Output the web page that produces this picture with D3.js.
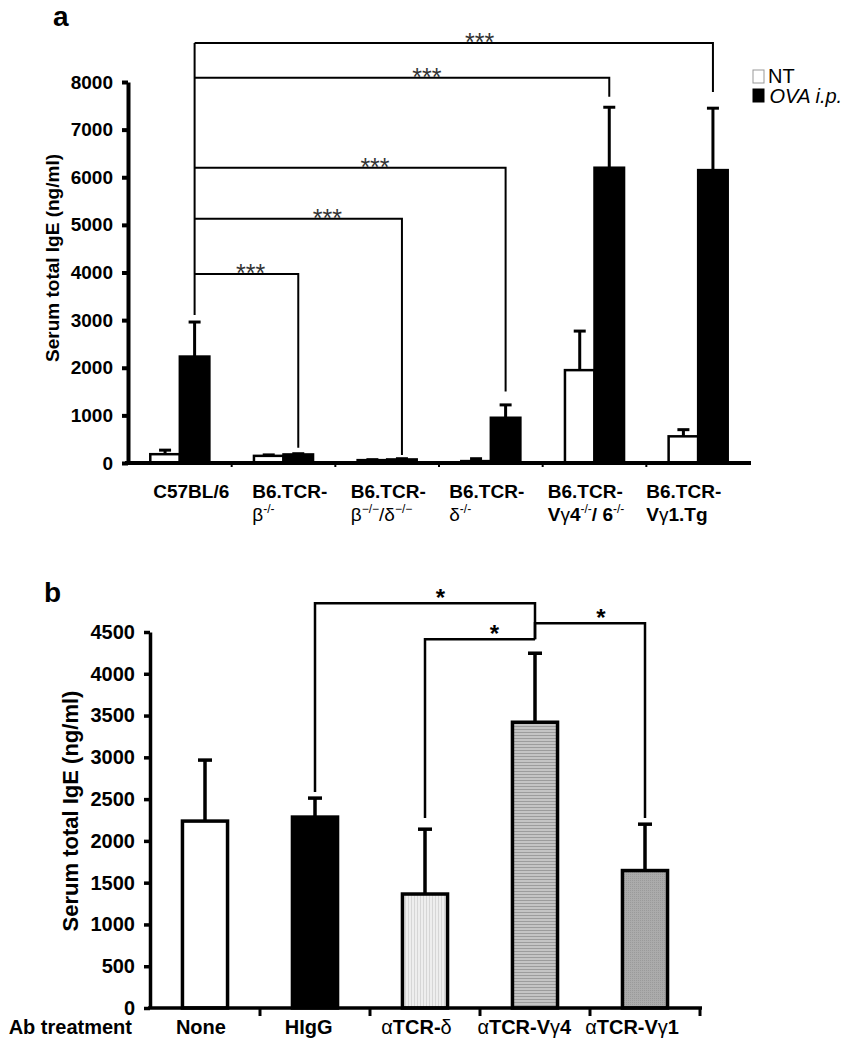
<!DOCTYPE html>
<html><head><meta charset="utf-8">
<script src="https://cdn.jsdelivr.net/npm/d3@7"></script>
<style>body{margin:0;background:#fff} text{font-family:"Liberation Sans",Arial,Helvetica,sans-serif}</style>
</head><body><svg id="c" width="846" height="1050"></svg>
<script>
// ---------- Panel a data ----------
const groupsA = ["C57BL/6","B6.TCR-β-/-","B6.TCR-β-/-/δ-/-","B6.TCR-δ-/-","B6.TCR-Vγ4-/-/6-/-","B6.TCR-Vγ1.Tg"];
const seriesA = ["NT","OVA i.p."];
const ntMean  = [185, 150, 60, 40, 1950, 560];
const ntSD    = [ 85,  20, 10, 50,  820, 140];
const ovaMean = [2235, 180, 75, 950, 6200, 6150];
const ovaSD   = [ 725,  15, 15, 270, 1270, 1300];
const ticksA  = [0,1000,2000,3000,4000,5000,6000,7000,8000];
// label pieces: [text, kind] kind: "" bold, "g" greek(regular), "s" superscript
const labelLine1A = ["C57BL/6","B6.TCR-","B6.TCR-","B6.TCR-","B6.TCR-","B6.TCR-"];
const labelLine2A = [
  [],
  [["β","g"],["-/-","s"]],
  [["β","g"],["−/−","s"],["/","g"],["δ","g"],["−/−","s"]],
  [["δ","g"],["-/-","s"]],
  [["V",""],["γ","g"],["4",""],["-/-","s"],["/ 6",""],["-/-","s"]],
  [["V",""],["γ","g"],["1.Tg",""]]
];
// significance brackets: from group -> to group, line level, end level at target, star position fraction
const bracketsA = [
  {from:0, to:5, level:8820, end:7790, pos:0.55, label:"***"},
  {from:0, to:4, level:8090, end:7690, pos:0.56, label:"***"},
  {from:0, to:3, level:6200, end:1500, pos:0.58, label:"***"},
  {from:0, to:2, level:5130, end:170,  pos:0.64, label:"***"},
  {from:0, to:1, level:3970, end:320,  pos:0.54, label:"***"}
];
const bracketAStart = 3110;

// ---------- Panel b data ----------
const catsB  = ["None","HIgG","αTCR-δ","αTCR-Vγ4","αTCR-Vγ1"];
const meansB = [2237, 2285, 1364, 3420, 1645];
const sdB    = [ 730,  227,  776,  826,  555];
const ticksB = [0,500,1000,1500,2000,2500,3000,3500,4000,4500];
const labelPartsB = [
  [["None",""]],
  [["HIgG",""]],
  [["α","g"],["TCR-",""],["δ","g"]],
  [["α","g"],["TCR-V",""],["γ","g"],["4",""]],
  [["α","g"],["TCR-V",""],["γ","g"],["1",""]]
];
const bracketsB = [
  {from:1, to:3, level:4845, fromEnd:2584, toEnd:4414, pos:0.57, label:"*"},
  {from:2, to:3, level:4414, fromEnd:2273, toEnd:4414, pos:0.63, label:"*"},
  {from:3, to:4, level:4605, fromEnd:4414, toEnd:2273, pos:0.60, label:"*"}
];

const svg = d3.select("#c");

// defs: patterns
const defs = svg.append("defs");
const pDelta = defs.append("pattern").attr("id","pDelta").attr("patternUnits","userSpaceOnUse").attr("width",3).attr("height",3);
pDelta.append("rect").attr("width",3).attr("height",3).attr("fill","#eeeeee");
pDelta.append("rect").attr("width",1).attr("height",3).attr("fill","#d6d6d6");
const pV4 = defs.append("pattern").attr("id","pV4").attr("patternUnits","userSpaceOnUse").attr("width",4).attr("height",3);
pV4.append("rect").attr("width",4).attr("height",3).attr("fill","#c4c4c4");
pV4.append("rect").attr("width",4).attr("height",1).attr("fill","#9c9c9c");
const pV1 = defs.append("pattern").attr("id","pV1").attr("patternUnits","userSpaceOnUse").attr("width",2).attr("height",2);
pV1.append("rect").attr("width",2).attr("height",2).attr("fill","#ababab");
pV1.append("rect").attr("width",1).attr("height",1).attr("fill","#9a9a9a");
const fillsB = ["#ffffff","#000000","url(#pDelta)","url(#pV4)","url(#pV1)"];

function addParts(textSel, parts, size, supSize){
  let prevSup = false;
  parts.forEach(([t,k])=>{
    const ts = textSel.append("tspan").text(t);
    if(k==="g"){ ts.attr("font-weight","normal"); }
    if(k==="s"){
      ts.attr("font-size",supSize).attr("font-weight","normal").attr("dy",prevSup?0:-8);
      prevSup = true;
    } else {
      if(prevSup) ts.attr("dy",8);
      prevSup = false;
    }
  });
}

// ================= Panel a =================
const yA = d3.scaleLinear().domain([0,8000]).range([463,82]);
const x0A = d3.scaleBand().domain(groupsA).range([128,750]).paddingInner(0.43).paddingOuter(0.215);
const x1A = d3.scaleBand().domain(seriesA).range([0,x0A.bandwidth()]);
const labA = d3.scaleBand().domain(groupsA).range([142,733]);
const gA = svg.append("g");

svg.append("text").attr("x",53).attr("y",26).attr("font-size",28).attr("font-weight","bold").text("a");

// y axis
const axA = gA.append("g").attr("transform","translate(128,0)")
  .call(d3.axisLeft(yA).tickValues(ticksA).tickSize(6).tickSizeOuter(0).tickPadding(9).tickFormat(d3.format("d")));
axA.select(".domain").attr("stroke-width",4);
axA.selectAll(".tick line").attr("stroke-width",4);
axA.selectAll(".tick text").attr("font-size",19).attr("font-weight","bold").attr("fill","#000");

// bars
const dataA = groupsA.map((g,i)=>({g, vals:[{s:"NT",m:ntMean[i],e:ntSD[i]},{s:"OVA i.p.",m:ovaMean[i],e:ovaSD[i]}]}));
const grpA = gA.selectAll(".grp").data(dataA).join("g").attr("transform",d=>`translate(${x0A(d.g)},0)`);
grpA.selectAll("line.err").data(d=>d.vals).join("line").attr("class","err")
  .attr("x1",d=>x1A(d.s)+x1A.bandwidth()/2).attr("x2",d=>x1A(d.s)+x1A.bandwidth()/2)
  .attr("y1",d=>yA(d.m)).attr("y2",d=>yA(d.m+d.e)).attr("stroke","#000").attr("stroke-width",3);
grpA.selectAll("line.cap").data(d=>d.vals).join("line").attr("class","cap")
  .attr("x1",d=>x1A(d.s)+x1A.bandwidth()/2-6).attr("x2",d=>x1A(d.s)+x1A.bandwidth()/2+6)
  .attr("y1",d=>yA(d.m+d.e)).attr("y2",d=>yA(d.m+d.e)).attr("stroke","#000").attr("stroke-width",3);
grpA.selectAll("rect").data(d=>d.vals).join("rect")
  .attr("x",d=>x1A(d.s)).attr("width",x1A.bandwidth())
  .attr("y",d=>yA(d.m)).attr("height",d=>yA(0)-yA(d.m))
  .attr("fill",d=>d.s==="NT"?"#fff":"#000").attr("stroke","#000").attr("stroke-width",2.5);

// x axis line + boundary ticks
const xAxA = gA.append("g").attr("transform",`translate(0,${yA(0)})`)
  .call(d3.axisBottom(x0A).tickSize(0).tickSizeOuter(0).tickFormat(""));
xAxA.select(".domain").attr("stroke-width",4).attr("d",`M125,0H751`);
gA.selectAll(".bt").data(groupsA.slice(1)).join("line")
  .attr("x1",d=>x0A(d)-x0A.step()*x0A.paddingInner()/2).attr("x2",d=>x0A(d)-x0A.step()*x0A.paddingInner()/2)
  .attr("y1",yA(0)).attr("y2",yA(0)+4).attr("stroke","#000").attr("stroke-width",2);

// category labels
groupsA.forEach((g,i)=>{
  const cx = labA(g)+labA.bandwidth()/2;
  const t1 = gA.append("text").attr("x",cx).attr("y",498).attr("text-anchor","middle")
    .attr("font-size",19).attr("font-weight","bold").text(labelLine1A[i]);
  const bb = t1.node().getBBox();
  if(labelLine2A[i].length){
    const t2 = gA.append("text").attr("x",bb.x).attr("y",521).attr("font-size",19).attr("font-weight","bold");
    addParts(t2, labelLine2A[i], 19, 12);
  }
});

// y title
gA.append("text").attr("transform","translate(59,258) rotate(-90)").attr("text-anchor","middle")
  .attr("font-size",19).attr("font-weight","bold").text("Serum total IgE (ng/ml)");

// brackets
const ovaX = i => x0A(groupsA[i]) + x1A("OVA i.p.") + x1A.bandwidth()/2;
gA.append("line").attr("x1",ovaX(0)).attr("x2",ovaX(0)).attr("y1",yA(bracketsA[0].level)).attr("y2",yA(bracketAStart))
  .attr("stroke","#000").attr("stroke-width",2);
bracketsA.forEach(b=>{
  const xa = ovaX(b.from), xb = ovaX(b.to), y = yA(b.level);
  gA.append("path").attr("d",`M${xa},${y}H${xb}V${yA(b.end)}`).attr("fill","none").attr("stroke","#000").attr("stroke-width",2);
  gA.append("text").attr("x",xa+(xb-xa)*b.pos).attr("y",y+8).attr("text-anchor","middle")
    .attr("font-size",25).attr("letter-spacing",0).attr("fill","#333").text(b.label);
});

// legend
const legA = svg.append("g");
seriesA.forEach((s,i)=>{
  legA.append("rect").attr("x",753).attr("y",70+i*19).attr("width",11).attr("height",13)
    .attr("fill",i===0?"#fff":"#000").attr("stroke",i===0?"#999":"#000").attr("stroke-width",1);
  legA.append("text").attr("x",768+i*1.5).attr("y",83+i*20).attr("font-size",20)
    .attr("font-style",i===0?"normal":"italic").text(s);
});

// ================= Panel b =================
const yB = d3.scaleLinear().domain([0,4500]).range([1008,632]);
const xB = d3.scaleBand().domain(catsB).range([150,700]).paddingInner(0.59).paddingOuter(0.295);
const labB = d3.scaleBand().domain(catsB).range([147,686]);
const gB = svg.append("g");
svg.append("text").attr("x",44).attr("y",602).attr("font-size",28).attr("font-weight","bold").text("b");

const axB = gB.append("g").attr("transform","translate(150,0)")
  .call(d3.axisLeft(yB).tickValues(ticksB).tickSize(6).tickSizeOuter(0).tickPadding(9).tickFormat(d3.format("d")));
axB.select(".domain").attr("stroke-width",3.5);
axB.selectAll(".tick line").attr("stroke-width",3.5);
axB.selectAll(".tick text").attr("font-size",20).attr("font-weight","bold").attr("fill","#000");

const dataB = catsB.map((c,i)=>({c, m:meansB[i], e:sdB[i], f:fillsB[i]}));
const cxB = c => xB(c)+xB.bandwidth()/2;
gB.selectAll("line.err").data(dataB).join("line").attr("class","err")
  .attr("x1",d=>cxB(d.c)).attr("x2",d=>cxB(d.c)).attr("y1",d=>yB(d.m)).attr("y2",d=>yB(d.m+d.e))
  .attr("stroke","#000").attr("stroke-width",3.5);
gB.selectAll("line.cap").data(dataB).join("line").attr("class","cap")
  .attr("x1",d=>cxB(d.c)-7).attr("x2",d=>cxB(d.c)+7).attr("y1",d=>yB(d.m+d.e)).attr("y2",d=>yB(d.m+d.e))
  .attr("stroke","#000").attr("stroke-width",3.5);
gB.selectAll("rect.bar").data(dataB).join("rect").attr("class","bar")
  .attr("x",d=>xB(d.c)).attr("width",xB.bandwidth()).attr("y",d=>yB(d.m)).attr("height",d=>yB(0)-yB(d.m))
  .attr("fill",d=>d.f).attr("stroke","#000").attr("stroke-width",3.5);

const xAxB = gB.append("g").attr("transform",`translate(0,${yB(0)})`)
  .call(d3.axisBottom(xB).tickSize(0).tickSizeOuter(0).tickFormat(""));
xAxB.select(".domain").attr("stroke-width",3.5).attr("d","M148,0H702");
gB.selectAll(".bt").data(catsB).join("line")
  .attr("x1",d=>xB(d)+xB.bandwidth()+xB.step()*xB.paddingInner()/2).attr("x2",d=>xB(d)+xB.bandwidth()+xB.step()*xB.paddingInner()/2)
  .attr("y1",yB(0)).attr("y2",yB(0)+8).attr("stroke","#000").attr("stroke-width",3);

catsB.forEach((c,i)=>{
  const t = gB.append("text").attr("x",labB(c)+labB.bandwidth()/2).attr("y",1034).attr("text-anchor","middle")
    .attr("font-size",20).attr("font-weight","bold");
  addParts(t, labelPartsB[i], 20, 13);
});
gB.append("text").attr("x",132).attr("y",1034).attr("text-anchor","end").attr("font-size",20).attr("font-weight","bold").text("Ab treatment");

gB.append("text").attr("transform","translate(78,811) rotate(-90)").attr("text-anchor","middle")
  .attr("font-size",22).attr("font-weight","bold").text("Serum total IgE (ng/ml)");

bracketsB.forEach(b=>{
  const xa = cxB(catsB[b.from]), xb = cxB(catsB[b.to]), y = yB(b.level);
  gB.append("path").attr("d",`M${xa},${yB(b.fromEnd)}V${y}H${xb}V${yB(b.toEnd)}`)
    .attr("fill","none").attr("stroke","#000").attr("stroke-width",2.5);
  gB.append("text").attr("x",xa+(xb-xa)*b.pos).attr("y",y+3).attr("text-anchor","middle")
    .attr("font-size",24).attr("font-weight","bold").text(b.label);
});
</script></body></html>
